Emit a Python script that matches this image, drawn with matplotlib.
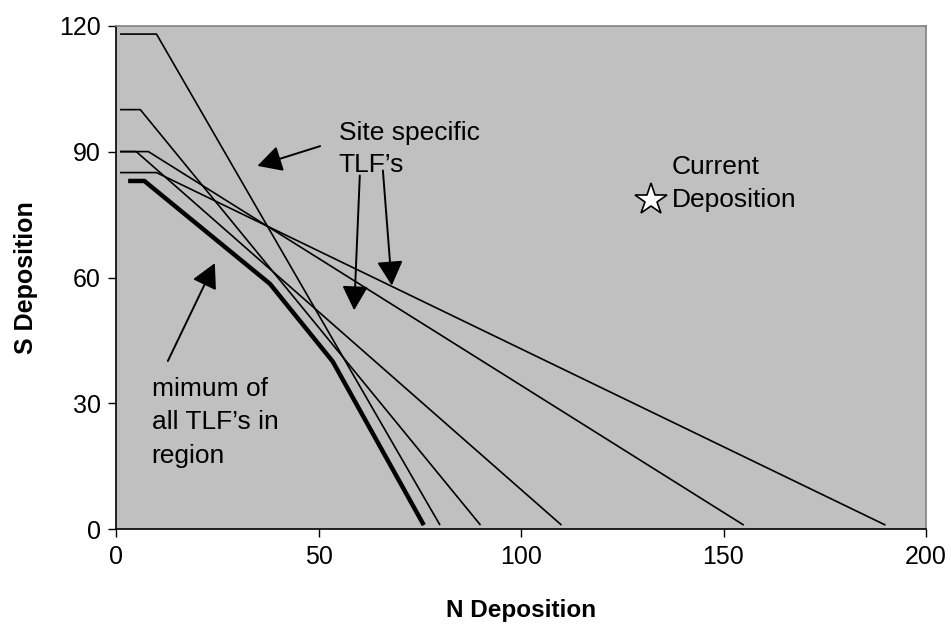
import matplotlib
matplotlib.use("Agg")
import matplotlib.pyplot as plt

plt.rcParams['font.family'] = ['Liberation Sans', 'DejaVu Sans']

# Site specific TLF lines (N deposition, S deposition)
tlf_n = [
    [1, 10, 80],
    [1, 6, 90],
    [1, 5, 110],
    [1, 8, 155],
    [1, 10, 190],
]
tlf_s = [
    [118, 118, 1],
    [100, 100, 1],
    [90, 90, 1],
    [90, 90, 1],
    [85, 85, 1],
]
# Minimum of all TLFs in region
min_n = [3, 7, 38, 53.5, 76]
min_s = [83, 83, 58.5, 40, 1]

# Current deposition
current_n = [132]
current_s = [78.5]

x_ticks = [0, 50, 100, 150, 200]
y_ticks = [0, 30, 60, 90, 120]

fig = plt.figure(figsize=(9.51, 6.28), dpi=100)
ax = fig.add_axes([116/951, 1-529.3/628, (926-116)/951, (529.3-25.7)/628])
ax.set_facecolor('#C0C0C0')

for xs, ys in zip(tlf_n, tlf_s):
    ax.plot(xs, ys, color='black', lw=1.2, solid_capstyle='butt')
ax.plot(min_n, min_s, color='black', lw=3.2, solid_capstyle='butt', solid_joinstyle='miter')

ax.plot(current_n, current_s, marker='*', markersize=24, markerfacecolor='white',
        markeredgecolor='black', markeredgewidth=1.2, linestyle='none')

ax.set_xlim(0, 200)
ax.set_ylim(0, 120)
ax.set_xticks(x_ticks)
ax.set_yticks(y_ticks)
ax.tick_params(direction='out', length=6, width=1, labelsize=18, pad=5)

for s in ['left', 'bottom']:
    ax.spines[s].set_color('black')
    ax.spines[s].set_linewidth(1.2)
for s in ['top', 'right']:
    ax.spines[s].set_color('#808080')
    ax.spines[s].set_linewidth(1.2)

ax.set_xlabel('N Deposition', fontsize=17.5, fontweight='bold', labelpad=22)
ax.set_ylabel('S Deposition', fontsize=18, fontweight='bold', labelpad=15)

fs = 19
ax.text(55, 90.6, 'Site specific\nTLF\u2019s', fontsize=fs, ha='left', va='center', linespacing=1.45)
ax.text(137.3, 82.4, 'Current\nDeposition', fontsize=fs, ha='left', va='center', linespacing=1.45)
ax.text(8.8, 25.5, 'mimum of\nall TLF\u2019s in\nregion', fontsize=fs, ha='left', va='center', linespacing=1.5)

aprops = dict(arrowstyle='-|>,head_length=0.75,head_width=0.4', mutation_scale=20,
              color='black', lw=1.4, shrinkA=0, shrinkB=0)
arrows = [
    ((50.4, 91.3), (34.9, 86.6)),
    ((60.2, 84.3), (58.8, 52.2)),
    ((65.9, 85.5), (68.1, 58.1)),
    ((12.8, 40.1), (24.4, 63.4)),
]
for tail, tip in arrows:
    ax.annotate('', xy=tip, xytext=tail, arrowprops=aprops)

fig.savefig('out.png', dpi=100)
